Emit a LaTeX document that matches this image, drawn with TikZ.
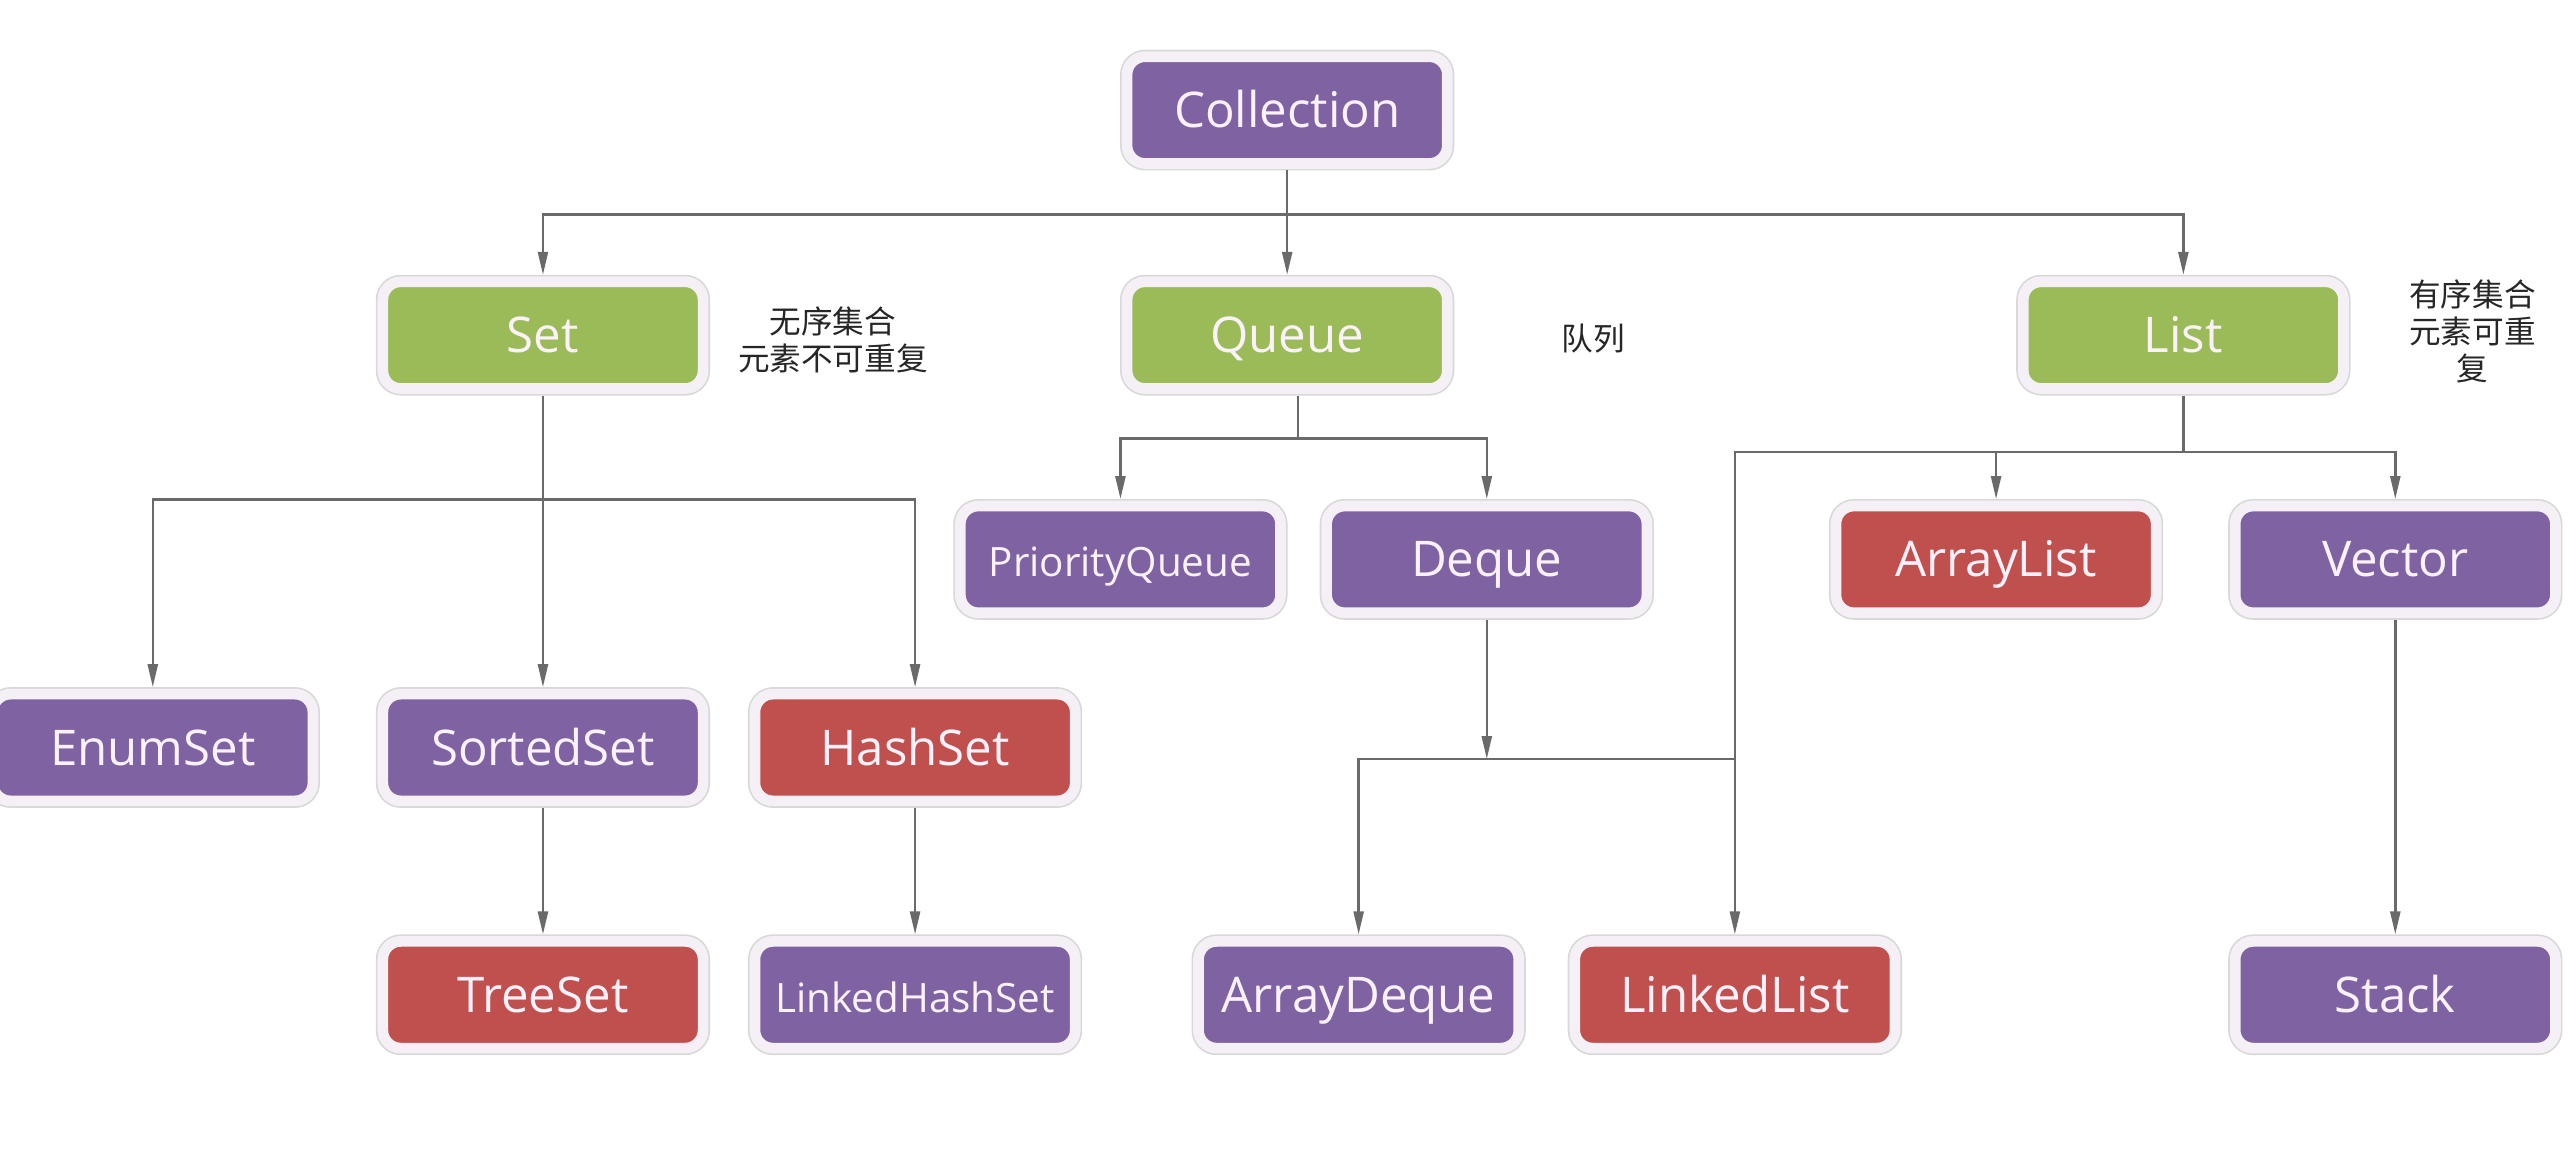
\documentclass[tikz,border=0pt]{standalone}
\usepackage{fontspec}
\setmainfont{Open Sans}
\newfontfamily\cjk{Noto Sans CJK SC}
\usepackage{xcolor}
\usetikzlibrary{positioning, arrows.meta}
\definecolor{ifacepurple}{HTML}{7E62A2}
\definecolor{abstrgreen}{HTML}{9BBB59}
\definecolor{implred}{HTML}{C0504D}
\definecolor{bandfill}{HTML}{F4F0F6}
\definecolor{bandline}{HTML}{D8D8D8}
\definecolor{linkgray}{HTML}{6A6A6A}
\definecolor{labelpink}{HTML}{FBF1FB}

\begin{document}
\begin{tikzpicture}[x=0.01643cm, y=-0.01643cm,
                  box/.style={rectangle,rounded corners=0.18cm,inner sep=0pt,outer sep=0.07cm,
                    minimum width=3.204cm,minimum height=1.068cm,
                    text height=11pt,text depth=1pt,
                    draw=bandfill,line width=0.107cm,
                    preaction={draw=bandline,line width=0.14cm},
                    text=labelpink,font=\fontsize{14}{16}\selectfont},
                  iface/.style={box,fill=ifacepurple},
                  abstr/.style={box,fill=abstrgreen},
                  impl/.style={box,fill=implred},
                  narrow/.style={font=\fontsize{11.5}{14}\selectfont},
                  note/.style={font=\cjk\fontsize{9}{10.5}\selectfont,align=center,text=black!85},
                  link/.style={draw=linkgray,line width=0.7pt},
                  post/.style={link,->,>={Triangle[length=0.23cm,width=0.1cm]}}
                  ]
                  \useasboundingbox (0,0) rectangle (1568,707.3);
                  \fill[white] (0,0) rectangle (1568,707.3);

                  % interfaces on top
                  \node[iface] (coll) at (783.5,67) {Collection};
                  \node[abstr] (set) at (330.5,204) {Set};
                  \node[abstr] (queue) at (783.5,204) {Queue};
                  \node[abstr] (list) at (1329,204) {List};

                  \node[note] (setnote) at (507,207) {无序集合\\元素不可重复};
                  \node[note] (queuenote) at (970,206) {队列};
                  \node[note] (listnote) at (1505,201.5) {有序集合\\元素可重\\复};

                  % second row
                  \node[iface,narrow] (prio) at (682,340.5) {PriorityQueue};
                  \node[iface] (deque) at (905,340.5) {Deque};
                  \node[impl] (alist) at (1215,340.5) {ArrayList};
                  \node[iface] (vector) at (1458,340.5) {Vector};

                  % third row
                  \node[iface] (enum) at (93,455) {EnumSet};
                  \node[iface] (sorted) at (330.5,455) {SortedSet};
                  \node[impl] (hash) at (557,455) {HashSet};

                  % bottom row
                  \node[impl] (tree) at (330.5,605.5) {TreeSet};
                  \node[iface,narrow] (lhash) at (557,605.5) {LinkedHashSet};
                  \node[iface] (adeque) at (827,605.5) {ArrayDeque};
                  \node[impl] (llist) at (1056,605.5) {LinkedList};
                  \node[iface] (stack) at (1458,605.5) {Stack};

                  % branch points
                  \coordinate (topbar) at (783.5,130.5);
                  \coordinate (setbar) at (330.5,304);
                  \coordinate (queuebar) at (790,267);
                  \coordinate (listbar) at (1329,275);
                  \coordinate (dequebar) at (905,462);

                  \draw[post] (coll) -- (queue);
                  \draw[post] (topbar) -| (set);
                  \draw[post] (topbar) -| (list);

                  \draw[link] (queue.south -| queuebar) -- (queuebar);
                  \draw[post] (queuebar) -| (prio);
                  \draw[post] (queuebar) -| (deque);

                  \draw[post] (set) -- (sorted);
                  \draw[post] (setbar) -| (enum);
                  \draw[post] (setbar) -| (hash);

                  \draw[link] (list) -- (listbar);
                  \draw[post] (listbar) -| (alist);
                  \draw[post] (listbar) -| (vector);
                  \draw[post] (listbar) -| (llist);

                  \draw[post] (deque) -- (dequebar);
                  \draw[post] (dequebar -| llist) -| (adeque);

                  \draw[post] (sorted) -- (tree);
                  \draw[post] (hash) -- (lhash);
                  \draw[post] (vector) -- (stack);
                \end{tikzpicture}
\end{document}
